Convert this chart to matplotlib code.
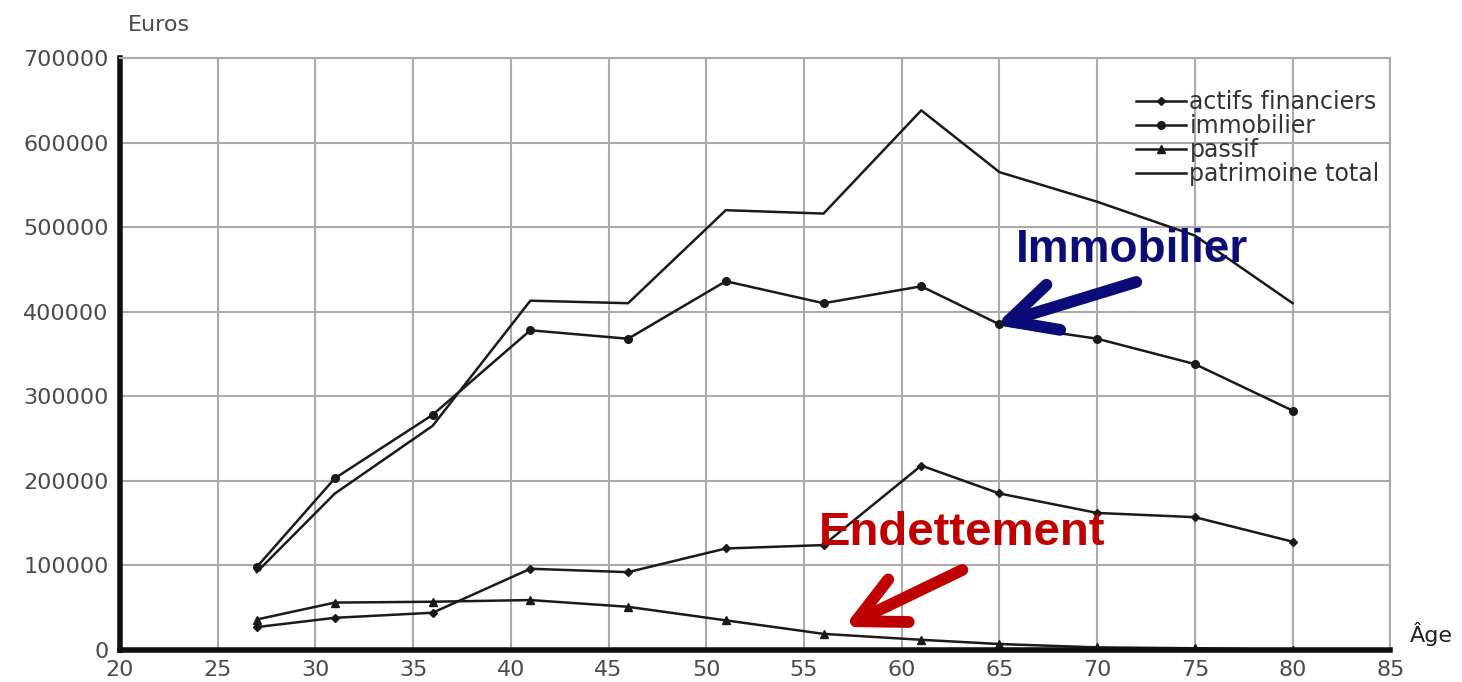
import numpy as np
import matplotlib.pyplot as plt

ages = [27, 31, 36, 41, 46, 51, 56, 61, 65, 70, 75, 80]
actifs_financiers = [27000, 38000, 44000, 96000, 92000, 120000, 124000, 218000, 185000, 162000, 157000, 128000]
immobilier = [98000, 203000, 278000, 378000, 368000, 436000, 410000, 430000, 385000, 368000, 338000, 283000]
passif = [36000, 56000, 57000, 59000, 51000, 35000, 19000, 12000, 7000, 3000, 2000, 0]
patrimoine_total = [92000, 185000, 265000, 413000, 410000, 520000, 516000, 638000, 565000, 530000, 490000, 410000]

x_ticks = list(range(20, 90, 5))
y_ticks = list(range(0, 800000, 100000))

plt.rcParams['font.family'] = ['DejaVu Sans']

fig = plt.figure(figsize=(14.62, 6.82), dpi=100)
ax = fig.add_axes([0.082, 0.047, 0.869, 0.868])

ax.plot(ages, actifs_financiers, color='#1a1a1a', lw=1.8, marker='D', ms=4, label='actifs financiers')
ax.plot(ages, immobilier, color='#1a1a1a', lw=1.8, marker='o', ms=5.5, label='immobilier')
ax.plot(ages, passif, color='#1a1a1a', lw=1.8, marker='^', ms=6, label='passif')
ax.plot(ages, patrimoine_total, color='#1a1a1a', lw=1.8, label='patrimoine total')

ax.set_xlim(20, 85)
ax.set_ylim(0, 700000)
ax.set_xticks(x_ticks)
ax.set_yticks(y_ticks)
ax.set_xticklabels([str(t) for t in x_ticks])
ax.set_yticklabels([str(t) for t in y_ticks])
ax.tick_params(length=0, labelsize=16, labelcolor='#4a4a4a')
ax.tick_params(axis='x', pad=7)
ax.tick_params(axis='y', pad=8)
ax.grid(True, color='#aaaaaa', lw=1.5)
ax.set_axisbelow(True)

for s in ['top', 'right']:
    ax.spines[s].set_color('#aaaaaa')
    ax.spines[s].set_linewidth(1.5)
for s in ['left', 'bottom']:
    ax.spines[s].set_color('#111111')
    ax.spines[s].set_linewidth(4)

fig.text(128 / 1462, 1 - 25 / 682, 'Euros', fontsize=16, color='#4a4a4a', va='center', ha='left')
fig.text(1410 / 1462, 1 - 634 / 682, 'Âge', fontsize=16, color='#222222', va='center', ha='left')

leg = ax.legend(loc='upper right', bbox_to_anchor=(0.999, 0.962), frameon=False, fontsize=17,
                labelspacing=0.0, handlelength=2.1, handletextpad=0.15, borderaxespad=0)
for t in leg.get_texts():
    t.set_color('#333333')

navy = '#0c0c78'
red = '#c00000'
head = '->,head_length=1.7,head_width=0.85'

ax.text(71.8, 458800, 'Immobilier', fontsize=33, fontweight='bold', color=navy,
        family='Liberation Sans', ha='center', va='baseline')
ax.annotate('', xy=(64.8, 384300), xytext=(72.0, 435100),
            arrowprops=dict(arrowstyle=head, color=navy, lw=8.5,
                            mutation_scale=20, shrinkA=0, shrinkB=0, capstyle='round',
                            joinstyle='round'))

ax.text(63.1, 124200, 'Endettement', fontsize=34, fontweight='bold', color=red,
        family='Liberation Sans', ha='center', va='baseline')
ax.annotate('', xy=(57.05, 27200), xytext=(63.1, 94600),
            arrowprops=dict(arrowstyle=head, color=red, lw=8.5,
                            mutation_scale=20, shrinkA=0, shrinkB=0, capstyle='round',
                            joinstyle='round'))

fig.savefig('out.png', dpi=100)
